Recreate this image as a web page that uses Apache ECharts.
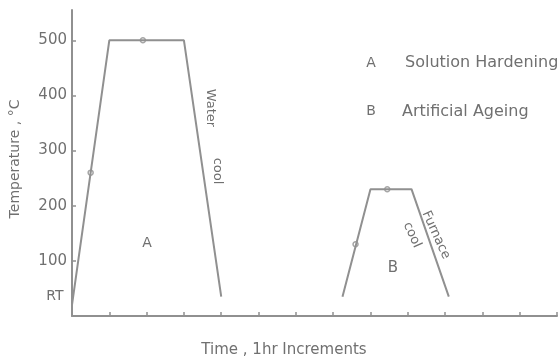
<!DOCTYPE html>
<html>
<head>
<meta charset="utf-8">
<script src="https://cdn.jsdelivr.net/npm/echarts@6/dist/echarts.min.js"></script>
<style>
  html, body { margin: 0; padding: 0; background: #ffffff; }
  #chart { width: 560px; height: 358px; }
</style>
</head>
<body>
<div id="chart"></div>
<script>
// Heat-treatment cycle: time (1 hr increments) vs temperature (°C)
const yTicks = [100, 200, 300, 400, 500];
const roomTemp = 35;            // level marked "RT"
const timeMax = 13;             // hours shown on the time axis
const tempMax = 555;

// A: solution hardening — heat up, hold at 500 °C, water quench
const solutionTime = [0, 1, 3, 4];
const solutionTemp = [20, 500, 500, 35];
// B: artificial ageing — heat up, hold, furnace cool
const ageingTime = [7.25, 8, 9.1, 10.1];
const ageingTemp = [35, 230, 230, 35];
// direction markers along the two cycles
const markerTime = [0.5, 1.9, 7.6, 8.45];
const markerTemp = [260, 500, 130, 230];

const ink = '#909090';
const textInk = '#707070';
const font = 'DejaVu Sans';

const pairs = (xs, ys) => xs.map((x, i) => [x, ys[i]]);

const chart = echarts.init(document.getElementById('chart'), null, { renderer: 'canvas' });

chart.setOption({
  backgroundColor: '#ffffff',
  animation: false,
  grid: { left: 72, right: 3, top: 10, bottom: 42 },
  xAxis: {
    type: 'value', min: 0, max: timeMax, interval: 1,
    axisLine: { show: true, lineStyle: { color: ink, width: 2 } },
    axisTick: { show: true, inside: true, length: 4, lineStyle: { color: ink, width: 1.5 } },
    axisLabel: { show: false },
    splitLine: { show: false }
  },
  yAxis: {
    type: 'value', min: 0, max: tempMax, interval: 100,
    axisLine: { show: true, lineStyle: { color: ink, width: 2 } },
    axisTick: { show: true, inside: true, length: 4, customValues: yTicks,
                lineStyle: { color: ink, width: 1.5 } },
    axisLabel: { show: true, customValues: yTicks, margin: 5,
                 color: textInk, fontFamily: font, fontSize: 15 },
    splitLine: { show: false }
  },
  series: [
    { name: 'A', type: 'line', data: pairs(solutionTime, solutionTemp),
      symbol: 'none', lineStyle: { color: ink, width: 2 } },
    { name: 'B', type: 'line', data: pairs(ageingTime, ageingTemp),
      symbol: 'none', lineStyle: { color: ink, width: 2 } },
    { name: 'markers', type: 'scatter', data: pairs(markerTime, markerTemp),
      symbol: 'circle', symbolSize: 5,
      itemStyle: { color: '#ffffff', borderColor: ink, borderWidth: 1.5 } }
  ]
});

const rtY = chart.convertToPixel({ gridIndex: 0 }, [0, roomTemp])[1];

const txt = (text, x, y, opts = {}) => ({
  type: 'text', x, y, rotation: opts.rotation || 0,
  style: {
    text, fill: textInk, font: (opts.size || 13) + 'px "' + font + '"',
    align: opts.align || 'center', verticalAlign: 'middle'
  }
});

chart.setOption({
  graphic: [
    txt('RT', 55, rtY, { size: 14 }),
    txt('Temperature , °C', 15, 159, { rotation: Math.PI / 2, size: 14 }),
    txt('Time , 1hr Increments', 284, 350, { size: 15 }),
    txt('A', 371, 63, { size: 14 }),
    txt('Solution Hardening', 405, 63, { size: 16, align: 'left' }),
    txt('B', 371, 111, { size: 14 }),
    txt('Artificial Ageing', 402, 112, { size: 16, align: 'left' }),
    txt('Water', 210, 108, { rotation: -Math.PI / 2, size: 13 }),
    txt('cool', 217, 171, { rotation: -Math.PI / 2, size: 13 }),
    txt('Furnace', 436, 235, { rotation: -1.14, size: 13 }),
    txt('cool', 412, 235, { rotation: -1.15, size: 13 }),
    txt('A', 147, 243, { size: 14 }),
    txt('B', 393, 268, { size: 15 })
  ]
});
</script>
</body>
</html>
